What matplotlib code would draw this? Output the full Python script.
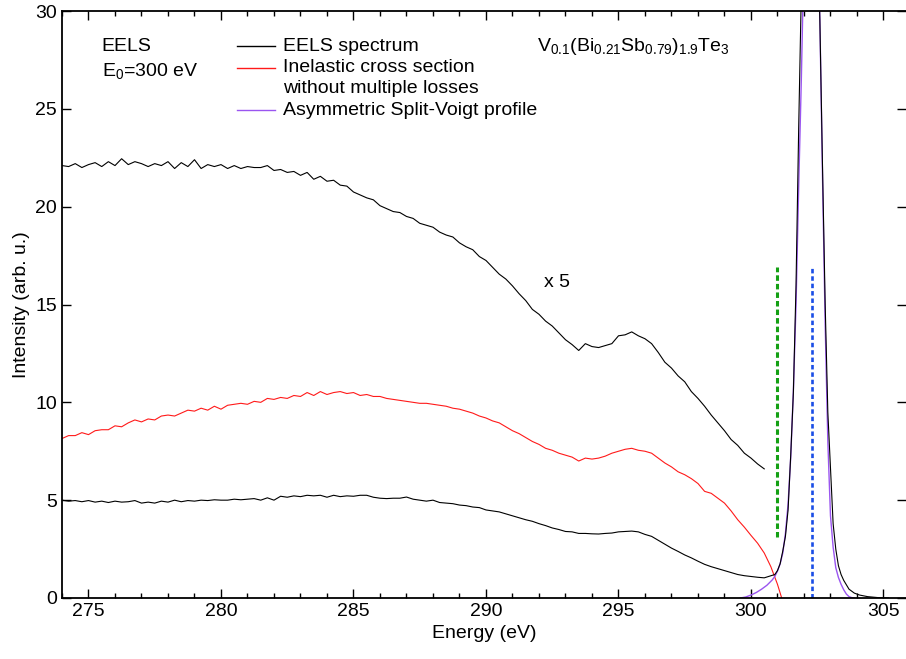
import numpy as np
import matplotlib
matplotlib.use("Agg")
import matplotlib.pyplot as plt

plt.rcParams['font.family'] = ['Liberation Sans', 'DejaVu Sans']
plt.rcParams['mathtext.fontset'] = 'custom'
plt.rcParams['mathtext.rm'] = 'Liberation Sans'
plt.rcParams['mathtext.it'] = 'Liberation Sans'
plt.rcParams['mathtext.default'] = 'regular'

# energy grid of the loss region (0.25 eV steps)
energy = np.arange(274.0, 300.51, 0.25)

# EELS spectrum x 5
eels_x5 = [22.10, 22.05, 22.20, 22.00, 22.15, 22.25, 22.05, 22.30, 22.10, 22.45,
           22.15, 22.30, 22.20, 22.05, 22.20, 22.10, 22.30, 21.95, 22.25, 22.05,
           22.40, 21.95, 22.15, 22.05, 22.15, 21.95, 22.10, 21.95, 22.05, 22.00,
           22.00, 22.10, 21.85, 21.90, 21.75, 21.80, 21.60, 21.75, 21.40, 21.55,
           21.30, 21.35, 21.10, 21.05, 20.75, 20.60, 20.45, 20.35, 20.05, 19.90,
           19.75, 19.70, 19.50, 19.40, 19.15, 19.05, 18.95, 18.70, 18.55, 18.45,
           18.15, 17.95, 17.80, 17.45, 17.25, 16.90, 16.55, 16.30, 15.95, 15.55,
           15.20, 14.75, 14.50, 14.15, 13.90, 13.55, 13.20, 12.95, 12.65, 13.00,
           12.85, 12.80, 12.90, 13.00, 13.40, 13.45, 13.60, 13.40, 13.25, 13.00,
           12.55, 12.05, 11.75, 11.35, 11.05, 10.55, 10.20, 9.80, 9.35, 8.95,
           8.55, 8.10, 7.80, 7.40, 7.15, 6.85, 6.60]

# inelastic cross section without multiple losses
inelastic = [8.15, 8.30, 8.30, 8.45, 8.35, 8.55, 8.60, 8.60, 8.80, 8.75,
             8.95, 9.10, 9.00, 9.15, 9.10, 9.30, 9.35, 9.30, 9.45, 9.60,
             9.55, 9.70, 9.60, 9.80, 9.65, 9.85, 9.90, 9.95, 9.90, 10.05,
             10.00, 10.20, 10.15, 10.25, 10.20, 10.35, 10.30, 10.50, 10.35, 10.55,
             10.40, 10.50, 10.55, 10.45, 10.50, 10.35, 10.40, 10.30, 10.30, 10.20,
             10.15, 10.10, 10.05, 10.00, 9.95, 9.95, 9.90, 9.85, 9.80, 9.70,
             9.65, 9.55, 9.45, 9.30, 9.20, 9.05, 8.95, 8.75, 8.55, 8.40,
             8.20, 8.00, 7.85, 7.65, 7.55, 7.40, 7.30, 7.20, 7.00, 7.15,
             7.10, 7.15, 7.25, 7.40, 7.50, 7.60, 7.65, 7.55, 7.50, 7.40,
             7.15, 6.90, 6.70, 6.45, 6.30, 6.10, 5.85, 5.45, 5.35, 5.10,
             4.85, 4.45, 4.00, 3.62, 3.20, 2.80, 2.30]
inel_tail_e = [300.75, 301.00, 301.25]
inel_tail = [1.60, 0.70, -0.40]

# EELS spectrum (loss region)
eels = [5.00, 4.95, 4.98, 4.92, 4.98, 4.90, 4.95, 4.88, 4.95, 4.90,
        4.92, 4.98, 4.85, 4.90, 4.85, 4.95, 4.90, 5.00, 4.92, 4.98,
        4.95, 5.00, 4.98, 5.02, 5.00, 5.00, 5.05, 5.02, 5.05, 5.08,
        5.00, 5.12, 5.00, 5.20, 5.15, 5.22, 5.18, 5.25, 5.22, 5.25,
        5.15, 5.25, 5.18, 5.22, 5.20, 5.25, 5.25, 5.15, 5.10, 5.08,
        5.10, 5.10, 5.16, 5.05, 5.00, 4.95, 5.00, 4.88, 4.85, 4.82,
        4.75, 4.72, 4.65, 4.62, 4.50, 4.45, 4.40, 4.30, 4.20, 4.10,
        4.00, 3.92, 3.80, 3.70, 3.58, 3.50, 3.40, 3.38, 3.30, 3.30,
        3.28, 3.27, 3.30, 3.32, 3.38, 3.40, 3.42, 3.38, 3.25, 3.15,
        2.95, 2.75, 2.55, 2.38, 2.20, 2.05, 1.88, 1.72, 1.60, 1.50,
        1.40, 1.30, 1.20, 1.14, 1.10, 1.06, 1.03]

# zero-loss peak part of the EELS spectrum
zlp_e = [300.75, 300.90, 301.00, 301.10, 301.20, 301.30, 301.40, 301.50, 301.60,
         301.70, 301.80, 301.90, 302.00, 302.10, 302.25, 302.40, 302.50, 302.60,
         302.70, 302.80, 302.90, 303.00, 303.10, 303.20, 303.30, 303.40, 303.50,
         303.70, 303.90, 304.10, 304.40, 304.80, 305.20]
zlp = [1.08, 1.20, 1.40, 1.75, 2.40, 3.15, 4.50, 7.30, 10.5,
       16.0, 24.0, 31.0, 38.0, 44.0, 47.0, 42.0, 35.0, 29.5,
       22.0, 15.0, 9.5, 6.6, 3.8, 2.5, 1.65, 1.20, 0.90,
       0.45, 0.25, 0.15, 0.07, 0.02, 0.00]

# asymmetric split-Voigt fit
voigt_e = [299.60, 299.80, 300.00, 300.20, 300.40, 300.60, 300.80, 300.90, 301.00,
           301.10, 301.20, 301.30, 301.40, 301.50, 301.60, 301.70, 301.80, 301.90,
           302.00, 302.10, 302.25, 302.40, 302.50, 302.60, 302.70, 302.80, 302.90,
           303.00, 303.10, 303.20, 303.30, 303.40, 303.50, 303.60, 303.70, 303.80, 303.90]
voigt = [0.00, 0.05, 0.15, 0.28, 0.45, 0.65, 0.92, 1.10, 1.38,
         1.75, 2.30, 3.30, 4.80, 7.20, 10.6, 15.0, 21.0, 26.5,
         33.0, 42.0, 46.0, 41.0, 35.0, 29.5, 21.5, 14.0, 8.0,
         4.2, 2.6, 1.55, 1.05, 0.70, 0.42, 0.20, 0.07, 0.02, 0.00]

# marker lines: (energy, bottom, top)
green_mark = (301.0, 3.1, 16.9)
blue_mark = (302.3, 0.0, 16.9)

fig = plt.figure(figsize=(9.06, 6.59), dpi=100)
ax = fig.add_axes([62/906, 61/659, 844/906, 587/659])

black = '#000000'
red = '#ff1a1a'
purple = '#9a55f0'
fs = 14

ax.plot(energy, eels_x5, color=black, lw=0.8)
ax.plot(list(energy) + inel_tail_e, inelastic + inel_tail, color=red, lw=0.8)
ax.plot(voigt_e, voigt, color=purple, lw=1.0)
ax.plot(list(energy) + zlp_e[1:], eels + zlp[1:], color=black, lw=0.8)

ax.plot([green_mark[0]] * 2, green_mark[1:], color='#14a014', lw=2.2,
        dashes=(1.8, 1.0))
ax.plot([blue_mark[0]] * 2, blue_mark[1:], color='#1a4ee6', lw=1.9,
        dashes=(1.7, 1.1))

ax.set_xlim(274.0, 305.85)
ax.set_ylim(0, 30)
ax.set_xticks(np.arange(275, 306, 5))
ax.set_xticks(np.arange(274, 306, 1), minor=True)
ax.set_yticks(np.arange(0, 31, 5))
ax.tick_params(which='both', direction='in', top=True, right=True,
               labelsize=fs, width=1.0)
ax.tick_params(which='major', length=6.5)
ax.tick_params(which='minor', length=3.6)
ax.tick_params(axis='y', which='minor', left=False, right=False)
for s in ax.spines.values():
    s.set_linewidth(1.3)
ax.spines['right'].set_visible(False)

ax.set_xlabel('Energy (eV)', fontsize=fs, labelpad=4)
ax.set_ylabel('Intensity (arb. u.)', fontsize=fs, labelpad=4)

# annotations
ax.text(0.047, 0.940, 'EELS', transform=ax.transAxes, fontsize=fs, va='center')
ax.text(0.047, 0.898, 'E$_0$=300 eV', transform=ax.transAxes, fontsize=fs, va='center')
ax.text(0.563, 0.940, r'V$_{0.1}$(Bi$_{0.21}$Sb$_{0.79}$)$_{1.9}$Te$_3$',
        transform=ax.transAxes, fontsize=fs, va='center')
ax.text(292.2, 16.1, 'x 5', fontsize=fs, va='center')

# legend drawn by hand
legend_rows = [(0.940, black, 'EELS spectrum'),
               (0.903, red, 'Inelastic cross section'),
               (0.831, purple, 'Asymmetric Split-Voigt profile')]
for y, c, label in legend_rows:
    ax.plot([0.207, 0.252], [y, y], color=c, lw=1.0, transform=ax.transAxes)
    ax.text(0.262, y, label, transform=ax.transAxes, fontsize=fs, va='center')
ax.text(0.262, 0.868, 'without multiple losses', transform=ax.transAxes,
        fontsize=fs, va='center')

fig.savefig('out.png', dpi=100)
